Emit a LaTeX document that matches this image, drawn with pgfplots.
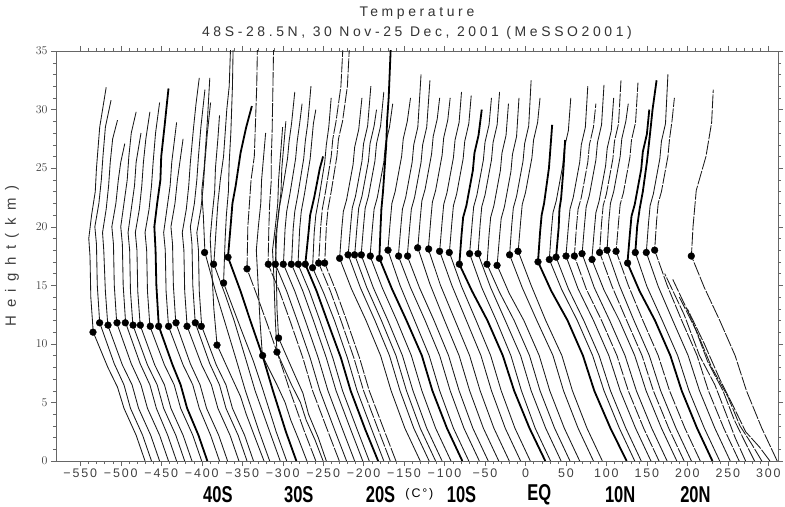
\documentclass[border=0pt]{standalone}
\usepackage{pgfplots}
\pgfplotsset{compat=1.18}
\usepackage{fontspec}
\usepackage{graphicx}
\setmainfont{Liberation Sans}
\newfontfamily\tickfont[LetterSpace=15]{Liberation Sans}
\newfontfamily\titlefont[LetterSpace=26]{Liberation Sans}
\newfontfamily\labfont[LetterSpace=50]{Liberation Sans}
\newcommand\lat[1]{\scalebox{0.72}[1]{\fontsize{23}{23}\selectfont\bfseries #1}}

\pgfplotsset{
  prof/.style={black!90, line width=0.85bp},
  thk/.style={black, line width=1.8bp},
  brk/.style={black!90, line width=0.85bp, dash pattern=on 14bp off 1.5bp},
}

\begin{document}
\begin{tikzpicture}
\begin{axis}[
  name=ax,
  scale only axis,
  width=722bp, height=410bp,
  xmin=-580, xmax=312,
  ymin=0, ymax=35,
  xtick={-550,-500,...,300},
  xticklabels={−550,−500,−450,−400,−350,−300,−250,−200,−150,−100,−50,0,50,100,150,200,250,300},
  ytick={0,5,...,35},
  minor x tick num=4,
  minor y tick num=4,
  tick align=outside,
  major tick length=5bp,
  minor tick length=3bp,
  axis line style={black!60},
  tick style={black!60},
  ticklabel style={font=\tickfont\fontsize{12.5}{13}\selectfont, text=black!75},
  xticklabel style={yshift=1bp},
  clip mode=individual,
]
% --- 40S group, tropopause near 11 km
\addplot[prof] coordinates {(-470,0)(-481,2.2)(-496,4.5)(-504,6.3)(-516,8)(-534,11)(-537,14)(-538,17.5)(-539.5,19)(-536,21)(-531.5,23)(-530,25)(-526,28.5)(-518,31.9)};
\addplot[prof] coordinates {(-462,0)(-473,2.2)(-488,4.5)(-496,6.5)(-508,8.3)(-526,11.8)(-529,15)(-530,18.5)(-532,20)(-527,22)(-524,24)(-522,26)(-519,28.5)(-512,30.8)};
\addplot[prof] coordinates {(-452,0)(-463,2.2)(-478,4.5)(-486,6.5)(-498,8.2)(-516,11.6)(-519,14.5)(-521,18)(-522.5,19.5)(-518,21.5)(-515,23.5)(-513,25.5)(-510,27.5)(-504,29.1)};
\addplot[prof] coordinates {(-441,0)(-452,2.2)(-467,4.5)(-475,6.5)(-487,8.3)(-505,11.8)(-508,15)(-509,18.5)(-511,20)(-506,22)(-503,24)(-500,25.5)(-495,27.1)};
\addplot[prof] coordinates {(-431,0)(-442,2.2)(-456,4.5)(-464,6.5)(-476,8.3)(-494,11.8)(-497,15)(-498,18.5)(-500,20)(-496,22)(-492,24)(-490,26)(-487,28)(-481,29.8)};
\addplot[prof] coordinates {(-421,0)(-432,2.2)(-447,4.5)(-455,6.5)(-467,8.2)(-485,11.6)(-488,14.5)(-489,18)(-491,19.5)(-487,21.5)(-483,23.5)(-481,25.5)(-475,28)};
\addplot[prof] coordinates {(-412,0)(-423,2.2)(-438,4.5)(-446,6.5)(-458,8.2)(-476,11.6)(-479,14.5)(-480,18)(-482,19.5)(-477,21.5)(-474,23.5)(-472,25.5)(-469,27.5)(-464,29.8)};
\addplot[prof] coordinates {(-400,0)(-411,2.2)(-426,4.5)(-434,6.5)(-446,8.2)(-464,11.5)(-467,14.5)(-468,18)(-470,19.5)(-465,21.5)(-462,23.5)(-460,25.5)(-457,28)(-452,30.6)};
\addplot[thk]  coordinates {(-393,0)(-404,2.2)(-418,4.5)(-426,6.5)(-436,8.2)(-453,11.5)(-456,15)(-457,18)(-458.5,20)(-455,22)(-451,24)(-450,26)(-446,28.5)(-443,30.5)(-441,31.8)};
\addplot[prof] coordinates {(-378,0)(-389,2.2)(-403,4.5)(-411,6.5)(-423,8.2)(-441,11.5)(-444,14.5)(-445,18)(-447,19.5)(-443,21.5)(-439,23.5)(-437,25.5)(-434,27.2)(-431,28.9)};
\addplot[prof] coordinates {(-368,0)(-379,2.2)(-394,4.5)(-402,6.5)(-414,8.3)(-432,11.8)(-435,15)(-436,18.5)(-438,20)(-433,22)(-430,24)(-427,25.5)(-423,27.5)};
\addplot[prof] coordinates {(-354,0)(-365,2.2)(-380,4.5)(-388,6.5)(-400,8.2)(-418,11.5)(-421,14.5)(-422,18)(-424,19.5)(-419,21.5)(-416,23.5)(-414,25.5)(-410,28.5)(-407,30.5)(-403,32.7)};
\addplot[prof] coordinates {(-344,0)(-355,2.2)(-370,4.5)(-378,6.5)(-390,8.3)(-408,11.8)(-411,15)(-412,18.5)(-414,20)(-409,22)(-406,24)(-404,26)(-401,28.5)(-396,31.7)};
\addplot[prof] coordinates {(-336,0)(-347,2.2)(-362,4.5)(-370,6.5)(-382,8.2)(-400,11.5)(-403,14.5)(-404,18)(-406,19.5)(-401,21.5)(-398,23.5)(-396,25.5)(-393,28)(-389,30.6)};
% --- mixed profiles, 40S-30S
\addplot[prof] coordinates {(-316,0)(-329,2.5)(-346,6)(-358,8.8)(-372,12)(-383,14.5)(-396,17.8)(-398,21)(-400,23)(-397,25)(-395,27)(-393,29)(-390,32.7)};
\addplot[prof] coordinates {(-303,0)(-316,2.5)(-334,6)(-346,8.8)(-360,12)(-371,14.2)(-385,16.8)(-382,20)(-380,22)(-377,24)(-373,26)(-371,28)(-369,30)(-366,32)(-364,36)};
\addplot[prof] coordinates {(-323,0)(-333,1.8)(-345,4)(-352,5.5)(-362,7)(-381,9.9)(-385,13)(-388,17)(-389.5,19)(-387,21)(-384,23)(-383,25)(-380,27.5)(-378,29.5)};
\addplot[prof] coordinates {(-295,0)(-308,2.5)(-324,6)(-336,8.5)(-350,11)(-373,15.2)(-371,19)(-369.5,21)(-367,23)(-366,25.5)(-364,28)(-362,32)(-361,36)};
\addplot[thk]  coordinates {(-283,0)(-296,2.5)(-312,6)(-324,8.8)(-340,12)(-352,14.5)(-367.5,17.4)(-364,20.3)(-362,22)(-358,23.5)(-352,26.3)(-345,28.5)(-338,30.3)};
\addplot[brk]  coordinates {(-259,0)(-273,2.5)(-291,6)(-303,8.5)(-318,11.5)(-331,14)(-344,16.4)(-343,20)(-341,22)(-339,24)(-335,26)(-334,28)(-332,32)(-331,36)};
\addplot[prof] coordinates {(-270,0)(-280,1.8)(-290,3.5)(-297,5)(-307,6.5)(-325,9)(-328,12)(-331,16)(-332.5,18)(-330,20)(-327,22)(-326,24)(-321,28)};
\addplot[prof] coordinates {(-250,0)(-260,1.8)(-271,3.5)(-278,5)(-289,6.5)(-307,9.3)(-309,12)(-311,16)(-312.5,18)(-309,20)(-306,22)(-305,24)(-300,28.5)};
\addplot[prof] coordinates {(-246,0)(-256,2)(-268,4)(-275,5.8)(-286,7.5)(-305,10.5)(-307,13)(-308,17)(-309,19)(-305,21)(-302,23)(-301,25)(-296,29)};
% --- 30S group, tropopause near 16.8 km
\addplot[brk]  coordinates {(-230,0)(-245,2.7)(-263,6)(-275,8.8)(-291,12)(-304,14.5)(-318,16.8)(-317,20)(-316,22)(-314,24)(-314,26)(-313,28)(-312,32)(-311,36)};
\addplot[prof] coordinates {(-221,0)(-236,2.7)(-254,6)(-266,8.8)(-282,12)(-295,14.5)(-309,16.8)(-307,19.8)(-305,21.3)(-301,22.8)(-294,25.8)(-292,27.3)(-289,28.8)(-285,31.5)};
\addplot[prof] coordinates {(-211,0)(-226,2.7)(-244,6)(-256,8.8)(-272,12)(-285,14.5)(-299,16.8)(-297,19.8)(-295,21.3)(-291,22.8)(-284,25.8)(-282,27.3)(-279,28.8)(-276,30.5)};
\addplot[prof] coordinates {(-201,0)(-216,2.7)(-234,6)(-246,8.8)(-262,12)(-275,14.5)(-289,16.8)(-287,19.8)(-285,21.3)(-281,22.8)(-274,25.8)(-272,27.3)(-269,28.8)(-265,32)};
\addplot[prof] coordinates {(-193,0)(-208,2.7)(-226,6)(-238,8.8)(-254,12)(-267,14.5)(-281,16.8)(-279,19.8)(-277,21.3)(-273,22.8)(-266,25.8)(-264,27.3)(-262,28.8)(-259,30)};
\addplot[thk]  coordinates {(-182,0)(-198,2.7)(-216,6)(-228,8.8)(-245,12)(-258,14.5)(-272,16.8)(-268,19.5)(-266,21)(-261,22.5)(-254,25)(-250,26)};
\addplot[prof] coordinates {(-175,0)(-190,2.7)(-208,6)(-220,8.8)(-236,12)(-249,14.3)(-263,16.5)(-261,19.5)(-259,21)(-255,22.5)(-248,25.5)(-246,27)(-243,28.5)(-240,31)};
\addplot[brk]  coordinates {(-167,0)(-182,2.7)(-200,6)(-212,8.8)(-228,12)(-241,14.5)(-255.5,16.9)(-253,20)(-251,21.5)(-247,23)(-240,26)(-238,27.5)(-234,29)(-228,32)(-225,36)};
\addplot[brk]  coordinates {(-160,0)(-175,2.7)(-193,6)(-205,8.8)(-221,12)(-234,14.5)(-248,16.9)(-246,20)(-244,21.5)(-240,23)(-233,26)(-231,27.5)(-226,29)(-220,32)(-217,36)};
% --- 20S to EQ
\addplot[prof] coordinates {(-130,0)(-149,2.8)(-166,6)(-179,9)(-197,12)(-215,14.7)(-229.6,17.3)(-227,19.8)(-225,21.3)(-221,22.3)(-213,25.3)(-211,26.8)(-206,28.3)(-202,31)};
\addplot[prof] coordinates {(-119,0)(-138,2.8)(-155,6)(-168,9)(-186,12)(-204,14.8)(-219,17.6)(-216,20.1)(-214,21.6)(-210,22.6)(-202,25.6)(-200,27.1)(-195,28.6)(-191,32)};
\addplot[prof] coordinates {(-111,0)(-130,2.8)(-147,6)(-160,9)(-178,12)(-196,14.8)(-211,17.6)(-208,20.1)(-206,21.6)(-202,22.6)(-194,25.6)(-192,27.1)(-187,28.6)(-184,30)};
\addplot[prof] coordinates {(-103,0)(-122,2.8)(-139,6)(-152,9)(-170,12)(-188,14.8)(-203,17.6)(-200,20.1)(-198,21.6)(-194,22.6)(-186,25.6)(-184,27.1)(-179,28.6)(-175,31.5)};
\addplot[prof] coordinates {(-92,0)(-111,2.8)(-128,6)(-141,9)(-159,12)(-177,14.8)(-192,17.5)(-189,20)(-187,21.5)(-183,22.5)(-175,25.5)(-173,27)(-168,28.5)(-164,30.5)};
\addplot[thk]  coordinates {(-78,0)(-97,2.8)(-115,6)(-128,9)(-147,12)(-165,14.7)(-180.5,17.3)(-179,20)(-178,21.5)(-176,23)(-172,27)(-171,29)(-169,31)(-166,36)};
\addplot[prof] coordinates {(-70,0)(-89,2.8)(-106,6)(-119,9)(-137,12)(-155,15)(-170,18)(-167,20.5)(-165,22)(-161,23)(-153,26)(-151,27.5)(-146,29)(-142,31)};
\addplot[prof] coordinates {(-57,0)(-76,2.8)(-93,6)(-106,9)(-124,12)(-142,14.8)(-157,17.5)(-154,20)(-152,21.5)(-148,22.5)(-140,25.5)(-138,27)(-133,28.5)(-129,33)};
\addplot[prof] coordinates {(-46,0)(-65,2.8)(-82,6)(-95,9)(-113,12)(-131,14.8)(-146,17.5)(-143,20)(-141,21.5)(-137,22.5)(-129,25.5)(-127,27)(-122,28.5)(-118,32.5)};
\addplot[prof] coordinates {(-33,0)(-52,2.8)(-69,6)(-82,9)(-100,12)(-118,15.1)(-133,18.2)(-130,20.7)(-128,22.2)(-124,23.2)(-116,26.2)(-114,27.7)(-109,29.2)(-106,31)};
\addplot[prof] coordinates {(-20,0)(-39,2.8)(-56,6)(-69,9)(-87,12)(-105,15)(-120,18.1)(-117,20.6)(-115,22.1)(-111,23.1)(-103,26.1)(-101,27.6)(-96,29.1)(-93,31)};
\addplot[prof] coordinates {(-6,0)(-25,2.8)(-42,6)(-55,9)(-73,12)(-91,15)(-106,17.9)(-103,20.4)(-101,21.9)(-97,22.9)(-89,25.9)(-87,27.4)(-82,28.9)(-79,31.5)};
\addplot[prof] coordinates {(6,0)(-13,2.8)(-30,6)(-43,9)(-61,12)(-79,14.9)(-94,17.8)(-91,20.3)(-89,21.8)(-85,22.8)(-77,25.8)(-75,27.3)(-70,28.8)(-67,31.2)};
\addplot[thk]  coordinates {(24.5,0)(5,2.8)(-14,6)(-28,9)(-47,12)(-66,14.5)(-81.7,16.8)(-79,19.3)(-77,20.8)(-73,21.8)(-65,24.8)(-63,26.3)(-58,27.8)(-54,30)};
\addplot[prof] coordinates {(31,0)(12,2.8)(-5,6)(-18,9)(-36,12)(-54,14.8)(-69,17.7)(-66,20.2)(-64,21.7)(-60,22.7)(-52,25.7)(-50,27.2)(-45,28.7)(-42,31)};
\addplot[prof] coordinates {(44,0)(25,2.8)(7,6)(-6,9)(-25,12)(-43,14.8)(-58.6,17.7)(-56,20.2)(-54,21.7)(-50,22.7)(-42,25.7)(-40,27.2)(-35,28.7)(-32,31.5)};
\addplot[prof] coordinates {(55,0)(36,2.8)(18,6)(5,9)(-14,12)(-32,14.4)(-47.5,16.8)(-45,19.3)(-43,20.8)(-39,21.8)(-31,24.8)(-29,26.3)(-24,27.8)(-21,30.5)};
\addplot[prof] coordinates {(67,0)(48,2.8)(30,6)(17,9)(-2,12)(-20,14.3)(-35,16.7)(-32,19.2)(-30,20.7)(-26,21.7)(-18,24.7)(-16,26.2)(-11,27.7)(-8,31)};
\addplot[prof] coordinates {(84,0)(65,2.8)(47,6)(34,9)(14,12)(-4,14.8)(-19.6,17.6)(-17,20.1)(-15,21.6)(-11,22.6)(-3,25.6)(-1,27.1)(4,28.6)(7,32.5)};
\addplot[prof] coordinates {(95,0)(76,2.8)(58,6)(45,9)(25,12)(7,15)(-9,17.9)(-6,20.4)(-4,21.9)(0,22.9)(8,25.9)(10,27.4)(15,28.9)(18,31)};
% --- EQ to 20N
\addplot[thk]  coordinates {(125,0)(105,2.8)(85,6)(71,9)(52,12)(32,14.5)(15.5,17)(18,19.5)(20,21)(23,22)(29,25)(33,28.7)};
\addplot[prof] coordinates {(135,0)(116,2.8)(97,6)(83,9)(64,12)(45,14.6)(29.5,17.2)(32,19.7)(34,21.2)(38,22.2)(46,25.2)(48,26.7)(53,28.2)(56,31)};
\addplot[prof] coordinates {(143,0)(124,2.8)(105,6)(91,9)(72,12)(53,14.7)(37.8,17.4)};
\addplot[thk]  coordinates {(37.8,17.4)(41,19.9)(42,21.5)(44,22.4)(47,25)(49,27.4)};
\addplot[prof] coordinates {(155,0)(136,2.8)(117,6)(103,9)(84,12)(65,14.7)(50,17.5)(53,20)(55,21.5)(59,22.5)(67,25.5)(69,27)(74,28.5)(77,32)};
\addplot[brk]  coordinates {(165,0)(146,2.8)(127,6)(113,9)(94,12)(75,14.7)(60.4,17.5)(63,20)(65,21.5)(69,22.5)(77,25.5)(79,27)(84,28.5)(87,30.5)};
\addplot[prof] coordinates {(175,0)(156,2.8)(137,6)(123,9)(104,12)(85,14.8)(70,17.7)(73,20.2)(75,21.7)(79,22.7)(87,25.7)(89,27.2)(94,28.7)(97,32.1)};
\addplot[prof] coordinates {(187,0)(168,2.8)(149,6)(135,9)(116,12)(97,14.6)(82,17.2)(85,19.7)(87,21.2)(91,22.2)(99,25.2)(101,26.7)(106,28.2)(109,31)};
\addplot[brk]  coordinates {(196,0)(177,2.8)(158,6)(144,9)(125,12)(107,14.9)(91.6,17.8)(94,20.3)(96,21.8)(100,22.8)(108,25.8)(110,27.3)(115,28.8)(118,32.5)};
\addplot[prof] coordinates {(205,0)(186,2.8)(167,6)(153,9)(134,12)(116,15)(100.8,18)(103,20.5)(105,22)(109,23)(117,26)(119,27.5)(124,29)(127,30.5)};
\addplot[brk]  coordinates {(216,0)(197,2.8)(178,6)(164,9)(145,12)(127,15)(112,17.9)(115,20.4)(117,21.9)(121,22.9)(129,25.9)(131,27.4)(136,28.9)(139,32.3)};
\addplot[thk]  coordinates {(231,0)(212,2.8)(193,6)(179,9)(160,12)(141,14.5)(126,16.9)(129,19.4)(131,20.9)(135,21.9)(143,24.9)(145,26.4)(150,27.9)(153,30)};
\addplot[prof] coordinates {(240,0)(221,2.8)(202,6)(188,9)(169,12)(150,14.9)(135.7,17.8)};
\addplot[thk]  coordinates {(135.7,17.8)(138,20)(141,21.5)(145,23)(150,25.5)(154,28)(157,30)(162,32.5)};
\addplot[prof] coordinates {(253,0)(234,2.8)(215,6)(201,9)(182,12)(164,14.9)(149.3,17.8)(152,20.3)(154,21.8)(158,22.8)(166,25.8)(168,27.3)(173,28.8)(176,33)};
\addplot[brk]  coordinates {(264,0)(245,2.8)(226,6)(212,9)(193,12)(175,15)(159.6,18)(162,20.5)(164,22)(168,23)(176,26)(178,27.5)(181,29)(184,31)};
\addplot[brk]  coordinates {(272,0)(259,2)(248,4)(234,6.5)(215,9)(196,12.5)(172,16)};
\addplot[brk]  coordinates {(283,0)(270,1.8)(258,3.5)(244,6)(225,8.5)(206,12)(182,15.5)};
\addplot[brk]  coordinates {(292,0)(279,1.5)(265,3)(250,5.5)(230,8)(212,11)(190,14)};
\addplot[brk]  coordinates {(302,0)(289,1.2)(272,2.5)(258,4.5)(240,7)(221,10)(200,13)};
\addplot[brk]  coordinates {(311,0)(292,2.8)(273,6)(259,9)(240,12)(221,14.8)(205,17.5)(207,20)(211,23.1)(223,26)(230,28.9)(232,31.7)};
% --- tropopause dots
\addplot[only marks, mark=*, mark size=3.4pt, black] coordinates {
  (-534.3,11.0)(-526.1,11.8)(-515.7,11.6)(-504.6,11.8)(-494.4,11.8)(-484.8,11.6)(-475.8,11.6)
  (-463.5,11.5)(-453.2,11.5)(-440.9,11.5)(-431.7,11.8)(-418.1,11.5)(-407.9,11.8)(-400.5,11.5)
  (-396.4,17.8)(-385.3,16.8)(-381.1,9.9)(-372.9,15.2)(-367.5,17.4)(-344.0,16.4)(-324.7,9.0)
  (-307.0,9.3)(-305.0,10.5)
  (-317.7,16.8)(-309.0,16.8)(-299.2,16.8)(-289.3,16.8)(-280.6,16.8)(-272.0,16.8)(-263.0,16.5)
  (-255.5,16.9)(-248.1,16.9)
  (-229.6,17.3)(-219.2,17.6)(-211.1,17.6)(-202.8,17.6)(-191.7,17.5)(-180.5,17.3)(-169.8,18.0)
  (-156.7,17.5)(-145.6,17.5)(-133.2,18.2)(-119.6,18.1)(-106.1,17.9)(-94.1,17.8)(-81.7,16.8)
  (-69.0,17.7)(-58.6,17.7)(-47.5,16.8)(-35.1,16.7)(-19.6,17.6)(-9.2,17.9)
  (15.5,17.0)(29.5,17.2)(37.8,17.4)(50.1,17.5)(60.4,17.5)(69.9,17.7)(82.3,17.2)(91.6,17.8)
  (100.8,18.0)(111.9,17.9)(126.2,16.9)(135.7,17.8)(149.3,17.8)(159.6,18.0)(204.9,17.5)
};
% --- latitude labels
\node at (axis cs:-380,0) [yshift=-34bp] {\lat{40S}};
\node at (axis cs:-280,0) [yshift=-34bp] {\lat{30S}};
\node at (axis cs:-179,0) [yshift=-34bp] {\lat{20S}};
\node at (axis cs:-131,0) [yshift=-33bp] {\tickfont\fontsize{12.5}{13}\selectfont (C°)};
\node at (axis cs:-79,0)  [yshift=-34bp] {\lat{10S}};
\node at (axis cs:17,0)   [yshift=-34bp] {\lat{EQ}};
\node at (axis cs:117,0)  [yshift=-34bp] {\lat{10N}};
\node at (axis cs:210,0)  [yshift=-34bp] {\lat{20N}};
\end{axis}
\node[rotate=90, text=black!75] at ([xshift=-44bp]ax.west) {\labfont\fontsize{15}{15}\selectfont Height(km)};
\node[text=black!80] at ([yshift=38bp]ax.north) {\titlefont\fontsize{14}{14}\selectfont Temperature};
\node[text=black!80] at ([yshift=18bp]ax.north) {\titlefont\fontsize{14}{14}\selectfont 48S-28.5N, 30 Nov-25 Dec, 2001 (MeSSO2001)};
\pgfresetboundingbox
\path[use as bounding box] ([xshift=-56bp,yshift=-46bp]ax.south west) rectangle ([xshift=7bp,yshift=51bp]ax.north east);
\end{tikzpicture}
\end{document}
